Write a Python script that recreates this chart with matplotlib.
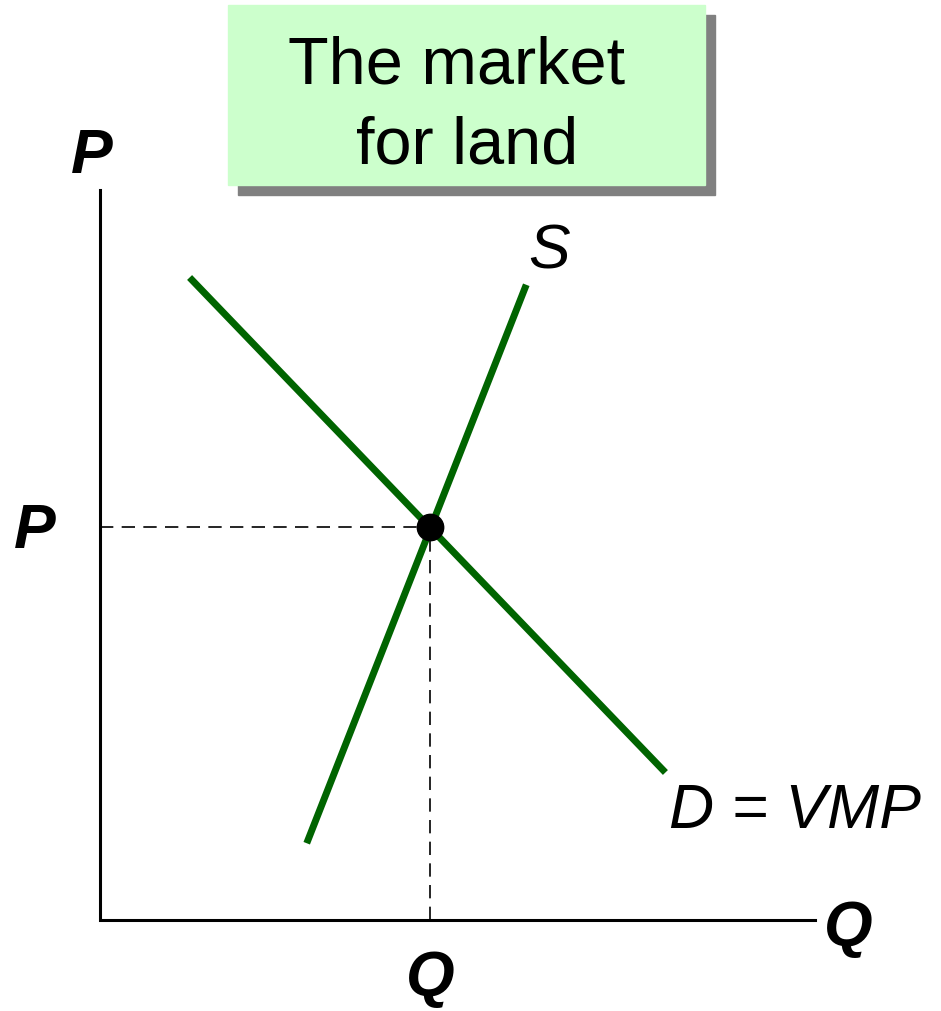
import matplotlib
matplotlib.use("Agg")
import matplotlib.pyplot as plt
from matplotlib.patches import Rectangle

# curve endpoints (Q, P) in chart units
demand_q = [9.2, 56.3]
demand_p = [64.0, 15.0]
supply_q = [20.8, 42.5]
supply_p = [8.0, 63.2]
eq_q, eq_p = 33.0, 39.3
q_max, p_max = 71.5, 73.0
title_lines = ["The market", "for land"]

GREEN = "#006400"
plt.rcParams["font.family"] = ["Liberation Sans", "DejaVu Sans"]

fig = plt.figure(figsize=(9.41, 10.11), dpi=100)
ax = fig.add_axes([0, 0, 1, 1])
ax.set_xlim(-10, 84.1)
ax.set_ylim(-9.1, 92.0)
ax.axis("off")

# axes
ax.plot([0, 0, q_max], [p_max, 0, 0], color="black", lw=2.2,
        solid_joinstyle="miter", zorder=2)

# dashed guides to equilibrium
ax.plot([0, eq_q], [eq_p, eq_p], color="black", lw=1.2, ls=(0, (8, 5)), zorder=1)
ax.plot([eq_q, eq_q], [0, eq_p], color="black", lw=1.2, ls=(0, (8, 5)), zorder=1)

# curves
ax.plot(demand_q, demand_p, color=GREEN, lw=5, zorder=3)
ax.plot(supply_q, supply_p, color=GREEN, lw=5, zorder=3)
ax.plot(eq_q, eq_p, "o", color="black", ms=19, zorder=4)

# labels
bi = dict(fontsize=45, fontweight="bold", fontstyle="italic", ha="center", va="center")
ax.text(-0.8, 76.3, "P", **bi)
ax.text(-6.5, 38.8, "P", **bi)
ax.text(eq_q, -5.9, "Q", **bi)
ax.text(74.8, -0.8, "Q", **bi)
ax.text(44.9, 66.8, "S", fontsize=45, fontstyle="italic", ha="center", va="center")
ax.text(69.5, 10.8, "D = VMP", fontsize=45, fontstyle="italic", ha="center", va="center")

# title box with shadow
W, H = 941, 1011
fig.patches.append(Rectangle((238 / W, 1 - 195 / H), 477 / W, 180 / H,
                             transform=fig.transFigure, color="#808080", zorder=0))
fig.patches.append(Rectangle((228 / W, 1 - 185 / H), 477 / W, 180 / H,
                             transform=fig.transFigure, color="#CCFFCC", zorder=1))
for (tx, ty), line in zip([(457, 83), (467, 163)], title_lines):
    fig.text(tx / W, 1 - ty / H, line, fontsize=48, ha="center",
             va="baseline", zorder=2)

fig.savefig("out.png", dpi=100)
